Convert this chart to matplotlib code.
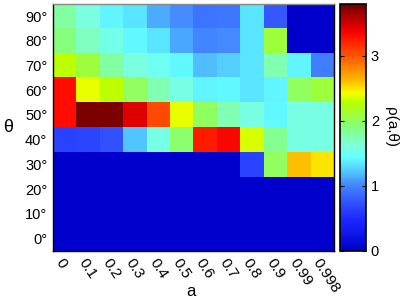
import numpy as np
import matplotlib
matplotlib.use('Agg')
import matplotlib.pyplot as plt
from matplotlib.colors import LinearSegmentedColormap

plt.rcParams['font.family'] = ['Liberation Sans', 'DejaVu Sans']

a_labels = ['0', '0.1', '0.2', '0.3', '0.4', '0.5', '0.6', '0.7', '0.8', '0.9', '0.99', '0.998']
theta_labels = ['0', '10', '20', '30', '40', '50', '60', '70', '80', '90']

# rho values, one list per theta row (0 deg .. 90 deg), columns follow a_labels
rho_0 = [0, 0, 0, 0, 0, 0, 0, 0, 0, 0, 0, 0]
rho_10 = [0, 0, 0, 0, 0, 0, 0, 0, 0, 0, 0, 0]
rho_20 = [0, 0, 0, 0, 0, 0, 0, 0, 0, 0, 0, 0]
rho_30 = [0, 0, 0, 0, 0, 0, 0, 0, 0.65, 2.0, 2.6, 2.5]
rho_40 = [0.65, 0.66, 0.75, 1.22, 1.57, 1.95, 3.25, 3.35, 2.35, 1.85, 1.58, 1.58]
rho_50 = [3.3, 3.75, 3.75, 3.45, 3.05, 2.4, 2.0, 1.75, 1.58, 1.42, 1.58, 1.58]
rho_60 = [3.3, 2.4, 2.3, 2.0, 1.75, 1.58, 1.4, 1.42, 1.33, 1.4, 2.0, 2.1]
rho_70 = [2.3, 2.1, 1.8, 1.6, 1.5, 1.42, 1.2, 1.25, 1.33, 1.75, 1.4, 0.95]
rho_80 = [1.9, 1.7, 1.55, 1.42, 1.33, 1.12, 1.0, 1.02, 1.33, 2.1, 0, 0]
rho_90 = [1.8, 1.6, 1.4, 1.33, 1.14, 1.03, 0.92, 0.93, 1.33, 0.78, 0, 0]

rho = np.array([rho_0, rho_10, rho_20, rho_30, rho_40,
                rho_50, rho_60, rho_70, rho_80, rho_90])

# slightly washed out jet, as in the original figure
cmap = LinearSegmentedColormap.from_list('jetlike', [
    (0.00, (0.0, 0.0, 0.8)),
    (0.12, (0.1, 0.15, 1.0)),
    (0.20, (0.2, 0.33, 1.0)),
    (0.27, (0.27, 0.55, 1.0)),
    (0.35, (0.35, 0.9, 1.0)),
    (0.38, (0.4, 1.0, 1.0)),
    (0.43, (0.5, 1.0, 0.85)),
    (0.50, (0.52, 1.0, 0.5)),
    (0.57, (0.65, 1.0, 0.15)),
    (0.60, (0.72, 1.0, 0.0)),
    (0.64, (0.97, 1.0, 0.0)),
    (0.70, (1.0, 0.68, 0.0)),
    (0.80, (1.0, 0.3, 0.0)),
    (0.87, (1.0, 0.05, 0.0)),
    (0.90, (0.92, 0.0, 0.0)),
    (1.00, (0.43, 0.0, 0.0)),
])

fig = plt.figure(figsize=(4.07, 3.06), dpi=100)
ax = fig.add_axes([0.130, 0.180, 0.690, 0.808])
cax = fig.add_axes([0.835, 0.180, 0.064, 0.808])

im = ax.imshow(rho, origin='lower', aspect='auto', cmap=cmap, vmin=0, vmax=3.8,
               interpolation='nearest')

ax.set_xticks(range(len(a_labels)))
ax.set_xticklabels(a_labels, rotation=-57, ha='left', va='top',
                   rotation_mode='anchor', fontsize=11)
ax.set_yticks(range(len(theta_labels)))
ax.set_yticklabels([t + '°' for t in theta_labels], fontsize=10.5)
ax.tick_params(length=0, pad=4)
ax.set_xlabel('a', fontsize=12)
ax.xaxis.set_label_coords(0.49, -0.135)
ax.set_ylabel('θ', fontsize=13, rotation=0, labelpad=12, va='center')
for s in ax.spines.values():
    s.set_linewidth(1.0)
ax.spines['top'].set_color('#888888')

cb = fig.colorbar(im, cax=cax)
cb.set_ticks([0, 1, 2, 3])
cb.ax.tick_params(labelsize=10.5, direction='in', length=3, left=True, right=True)
cb.set_label('ρ(a,θ)', fontsize=11, rotation=270, labelpad=14)
cb.outline.set_linewidth(1.2)

fig.savefig('out.png', dpi=100)
